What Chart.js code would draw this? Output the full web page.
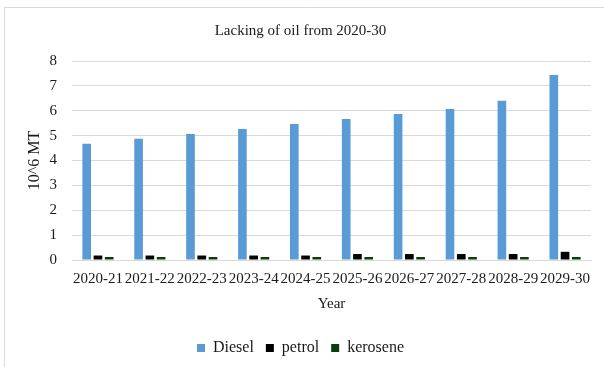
<!DOCTYPE html>
<html>
<head>
<meta charset="utf-8">
<script src="https://cdn.jsdelivr.net/npm/chart.js@4"></script>
<style>
  html, body { margin: 0; padding: 0; background: #ffffff; }
  #wrap { width: 604px; height: 367px; position: relative; }
</style>
</head>
<body>
<div id="wrap"><canvas id="c" width="604" height="367"></canvas></div>
<script>
const categories = ["2020-21","2021-22","2022-23","2023-24","2024-25","2025-26","2026-27","2027-28","2028-29","2029-30"];
const diesel   = [4.67, 4.87, 5.07, 5.27, 5.47, 5.67, 5.87, 6.07, 6.40, 7.44];
const petrol   = [0.18, 0.18, 0.18, 0.18, 0.18, 0.24, 0.24, 0.24, 0.24, 0.33];
const kerosene = [0.12, 0.12, 0.12, 0.12, 0.12, 0.12, 0.12, 0.12, 0.12, 0.12];
const yTicks   = [0, 1, 2, 3, 4, 5, 6, 7, 8];

const serif = "Liberation Serif";
const textColor = "#1a1a1a";
Chart.defaults.font.family = serif;
Chart.defaults.color = textColor;

const frame = {
  id: 'frame',
  beforeDraw(chart) {
    const ctx = chart.ctx;
    ctx.save();
    ctx.fillStyle = '#ffffff';
    ctx.fillRect(0, 0, chart.width, chart.height);
    ctx.strokeStyle = '#d9d9d9';
    ctx.lineWidth = 1;
    ctx.beginPath();
    ctx.moveTo(4.5, chart.height);
    ctx.lineTo(4.5, 7.5);
    ctx.lineTo(chart.width, 7.5);
    ctx.stroke();
    ctx.restore();
  }
};

new Chart(document.getElementById('c'), {
  type: 'bar',
  data: {
    labels: categories,
    datasets: [
      { label: 'Diesel', data: diesel, backgroundColor: '#5b9bd5' },
      { label: 'petrol', data: petrol, backgroundColor: '#000000' },
      { label: 'kerosene', data: kerosene, backgroundColor: '#0b3d0b' }
    ]
  },
  options: {
    responsive: false,
    animation: false,
    layout: { padding: { top: 22, right: 13, left: 10, bottom: 1 } },
    datasets: { bar: { categoryPercentage: 0.65, barPercentage: 0.77 } },
    plugins: {
      title: {
        display: true,
        text: 'Lacking of oil from 2020-30',
        color: textColor,
        font: { family: serif, size: 15, weight: 'normal' },
        padding: { top: 0, bottom: 21 }
      },
      legend: {
        position: 'bottom',
        labels: {
          color: textColor,
          font: { family: serif, size: 16, weight: 'normal' },
          boxWidth: 8,
          boxHeight: 8,
          padding: 12
        }
      },
      tooltip: { enabled: false }
    },
    scales: {
      x: {
        grid: { display: false },
        border: { color: '#d9d9d9' },
        ticks: {
          color: textColor,
          font: { family: serif, size: 15 },
          autoSkip: false,
          maxRotation: 0,
          minRotation: 0,
          padding: 2
        },
        title: {
          display: true,
          text: 'Year',
          color: textColor,
          font: { family: serif, size: 15 },
          padding: { top: 5, bottom: 15 }
        }
      },
      y: {
        min: 0,
        max: 8,
        afterBuildTicks(axis) { axis.ticks = yTicks.map(v => ({ value: v })); },
        afterFit(axis) { axis.width = 62; },
        grid: { color: '#d9d9d9', drawTicks: false },
        border: { display: false },
        ticks: {
          color: textColor,
          font: { family: serif, size: 15 },
          padding: 15
        },
        title: {
          display: true,
          text: '10^6 MT',
          color: textColor,
          font: { family: serif, size: 16 },
          padding: { top: 15, bottom: 0 }
        }
      }
    }
  },
  plugins: [frame]
});
</script>
</body>
</html>
